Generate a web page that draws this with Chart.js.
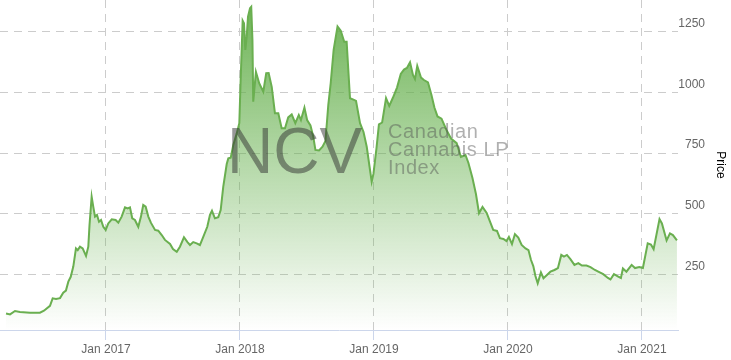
<!DOCTYPE html>
<html>
<head>
<meta charset="utf-8">
<script src="https://cdn.jsdelivr.net/npm/chart.js@4.4.1/dist/chart.umd.min.js"></script>
<style>
  html, body { margin: 0; padding: 0; background: #fff; }
  #wrap { width: 731px; height: 360px; }
</style>
</head>
<body>
<div id="wrap"><canvas id="ncvChart" width="731" height="360"></canvas></div>
<script>
// Index dates as decimal years
const dates = [
    2016.254, 2016.284, 2016.321, 2016.358, 2016.433, 2016.507, 2016.537, 2016.582, 2016.602, 2016.627,
    2016.657, 2016.681, 2016.701, 2016.719, 2016.737, 2016.756, 2016.776, 2016.789, 2016.806, 2016.826,
    2016.851, 2016.868, 2016.877, 2016.893, 2016.905, 2016.918, 2016.933, 2016.948, 2016.963, 2016.980,
    2016.998,
    2017.017, 2017.043, 2017.072, 2017.092, 2017.117, 2017.142, 2017.162, 2017.179, 2017.196, 2017.216,
    2017.241, 2017.261, 2017.278, 2017.296, 2017.316, 2017.336, 2017.366, 2017.390, 2017.416, 2017.440,
    2017.478, 2017.500, 2017.528, 2017.552, 2017.582, 2017.608, 2017.627, 2017.651, 2017.677, 2017.701,
    2017.726, 2017.756, 2017.776, 2017.791, 2017.813, 2017.838, 2017.856, 2017.875, 2017.901, 2017.913,
    2017.931, 2017.950, 2017.975, 2017.995,
    2018.005, 2018.020, 2018.030, 2018.040, 2018.050, 2018.060, 2018.075, 2018.084, 2018.093, 2018.099,
    2018.119, 2018.144, 2018.174, 2018.196, 2018.214, 2018.237, 2018.261, 2018.286, 2018.311, 2018.336,
    2018.360, 2018.386, 2018.413, 2018.439, 2018.455, 2018.481, 2018.501, 2018.526, 2018.547, 2018.563,
    2018.590, 2018.616, 2018.638, 2018.659, 2018.677, 2018.699, 2018.728, 2018.752, 2018.778, 2018.796,
    2018.821, 2018.851, 2018.866, 2018.896, 2018.922, 2018.946, 2018.963, 2018.983, 2018.996,
    2019.019, 2019.037, 2019.061, 2019.090, 2019.114, 2019.142, 2019.172, 2019.200, 2019.224, 2019.246,
    2019.269, 2019.291, 2019.306, 2019.323, 2019.351, 2019.373, 2019.403, 2019.429, 2019.451, 2019.474,
    2019.504, 2019.541, 2019.575, 2019.617, 2019.649, 2019.683, 2019.705, 2019.735, 2019.761, 2019.784,
    2019.810, 2019.841, 2019.866, 2019.890, 2019.918, 2019.940, 2019.966, 2019.989,
    2020.007, 2020.030, 2020.052, 2020.077, 2020.102, 2020.131, 2020.153, 2020.172, 2020.189, 2020.205,
    2020.222, 2020.246, 2020.265, 2020.291, 2020.317, 2020.347, 2020.373, 2020.398, 2020.418, 2020.440,
    2020.466, 2020.496, 2020.525, 2020.552, 2020.586, 2020.616, 2020.649, 2020.674, 2020.711, 2020.746,
    2020.765, 2020.791, 2020.823, 2020.843, 2020.858, 2020.884, 2020.923, 2020.948, 2020.980,
    2021.007, 2021.043, 2021.067, 2021.087, 2021.131, 2021.149, 2021.184, 2021.209, 2021.231, 2021.261
];

// Index price at each date
const prices = [
    89, 85, 99, 95, 92, 92, 100, 120, 151, 148,
    152, 174, 183, 220, 240, 282, 357, 350, 364, 357,
    326, 364, 453, 570, 529, 488, 495, 467, 474, 446,
    433,
    460, 477, 474, 463, 488, 526, 522, 526, 481, 474,
    446, 488, 536, 529, 488, 462, 433, 430, 412, 392,
    375, 354, 343, 364, 403, 383, 371, 383, 378, 371,
    405, 446, 495, 512, 481, 486, 515, 611, 705, 728,
    731, 783, 829, 873,
    1051, 1296, 1285, 1175, 1230, 1312, 1347, 1353, 1216, 962,
    1085, 1037, 1003, 1079, 1080, 1023, 914, 914, 852, 852,
    897, 909, 873, 907, 886, 937, 886, 864, 817, 763,
    761, 776, 800, 948, 1037, 1175, 1272, 1254, 1209, 1209,
    976, 969, 965, 873, 837, 776, 709, 632, 664,
    771, 868, 876, 976, 944, 979, 1020, 1076, 1094, 1101,
    1124, 1072, 1055, 1109, 1061, 1051, 1041, 989, 938, 901,
    892, 845, 810, 791, 734, 742, 709, 647, 581, 502,
    528, 503, 467, 433, 429, 399, 396, 387,
    404, 375, 416, 402, 371, 357, 350, 309, 284, 243,
    213, 258, 234, 247, 261, 268, 276, 330, 323, 330,
    313, 289, 296, 286, 286, 280, 268, 261, 251, 235,
    229, 251, 241, 235, 274, 261, 289, 276, 280,
    276, 378, 373, 354, 478, 460, 390, 419, 412, 390
];

const yearTicks = [2017, 2018, 2019, 2020, 2021];
const priceTicks = [250, 500, 750, 1000, 1250];

const lineGreen = '#6aaf50';
const labelFont = { family: '"Liberation Sans", Arial, sans-serif', size: 12 };

// Gray "NCV" logo text laid over the area
const watermark = {
    id: 'watermark',
    afterDatasetsDraw(chart) {
        const ctx = chart.ctx;
        ctx.save();
        ctx.textAlign = 'left';
        ctx.textBaseline = 'alphabetic';
        ctx.font = '64px "Liberation Sans", Arial, sans-serif';
        ctx.fillStyle = 'rgba(50, 50, 50, 0.5)';
        const m = ctx.measureText('NCV');
        ctx.fillText('NCV', 232 + m.actualBoundingBoxLeft, 173);

        ctx.font = '20px "Liberation Sans", Arial, sans-serif';
        ctx.letterSpacing = '0.6px';
        ctx.fillStyle = 'rgba(80, 80, 80, 0.45)';
        ctx.fillText('Canadian', 388, 138);
        ctx.fillText('Cannabis LP', 388, 156);
        ctx.fillText('Index', 388, 174);
        ctx.restore();
    }
};

const ctx = document.getElementById('ncvChart').getContext('2d');
new Chart(ctx, {
    type: 'line',
    data: {
        datasets: [{
            label: 'Price',
            data: dates.map((d, i) => ({ x: d, y: prices[i] })),
            borderColor: lineGreen,
            borderWidth: 2,
            pointRadius: 0,
            tension: 0,
            fill: 'start',
            backgroundColor: (c) => {
                const area = c.chart.chartArea;
                if (!area) return 'rgba(106, 175, 80, 0.4)';
                const g = c.chart.ctx.createLinearGradient(0, area.top, 0, area.bottom);
                g.addColorStop(0, 'rgba(100, 175, 75, 0.95)');
                g.addColorStop(1, 'rgba(100, 175, 75, 0)');
                return g;
            }
        }]
    },
    options: {
        responsive: false,
        animation: false,
        layout: { padding: { left: 0, top: 0, bottom: 0, right: 26 } },
        plugins: {
            legend: { display: false },
            tooltip: { enabled: false }
        },
        scales: {
            x: {
                type: 'linear',
                min: 2016.209,
                max: 2021.269,
                afterBuildTicks: (s) => { s.ticks = yearTicks.map(v => ({ value: v })); },
                afterFit: (s) => { s.height = 30; s.paddingLeft = 0; s.paddingRight = 0; },
                grid: { color: '#cccccc', tickColor: '#ccd6eb', tickLength: 10 },
                border: { color: '#ccd6eb', dash: [8, 6] },
                ticks: {
                    color: '#666666',
                    font: labelFont,
                    padding: 2,
                    maxRotation: 0,
                    autoSkip: false,
                    callback: (v) => 'Jan ' + v
                }
            },
            y: {
                position: 'right',
                min: 20.6,
                max: 1381,
                afterBuildTicks: (s) => { s.ticks = priceTicks.map(v => ({ value: v })); },
                afterFit: (s) => { s.width = 27; s.paddingTop = 0; s.paddingBottom = 0; },
                grid: { color: '#cccccc', drawTicks: false },
                border: { display: false, dash: [8, 6] },
                ticks: {
                    color: '#666666',
                    font: labelFont,
                    padding: 0,
                    crossAlign: 'far',
                    labelOffset: -8,
                    callback: (v) => String(v)
                },
                title: {
                    display: true,
                    text: 'Price',
                    color: '#000000',
                    font: labelFont,
                    padding: { top: -22.2, bottom: 0 }
                }
            }
        }
    },
    plugins: [watermark]
});
</script>
</body>
</html>
